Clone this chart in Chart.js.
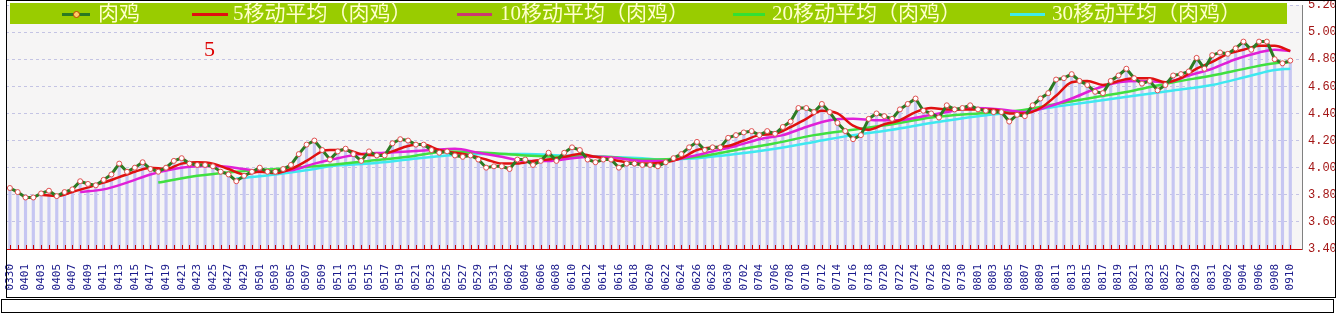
<!DOCTYPE html>
<html>
<head>
<meta charset="utf-8">
<script src="https://cdn.jsdelivr.net/npm/chart.js@4.4.1/dist/chart.umd.min.js"></script>
<style>
body{margin:0;background:#fff;width:1340px;height:313px;overflow:hidden;position:relative;font-family:"Liberation Serif","Noto Sans CJK SC",serif}
#wrap{position:absolute;left:0;top:0;width:1340px;height:297px}
#frame{position:absolute;left:6px;top:0;width:1328px;height:296px;border:1px solid #000;pointer-events:none}
#foot{position:absolute;left:1px;top:299px;width:1331px;height:12px;border:1px solid #000}
#legend{position:absolute;left:10px;top:3px;width:1277px;height:21px;background:#99cc00}
.it{position:absolute;top:0;height:21px;line-height:21px;font-size:21px;color:#ffffcc;white-space:nowrap}
.ln{position:absolute;top:10px;height:3px}
.dot{position:absolute;top:8px;width:5px;height:5px;border-radius:50%;background:#ffcc66;border:1px solid #c04000}
#mark5{position:absolute;left:204px;top:36px;font-size:22px;color:#dd0000;font-family:"Liberation Serif",serif}
</style>
</head>
<body>
<div id="wrap"><canvas id="c" width="1340" height="297"></canvas></div>
<div id="frame"></div>
<div id="foot"></div>
<div id="legend">
  <span class="ln" style="left:52px;width:28px;background:#2b7a22"></span><span class="dot" style="left:63px"></span>
  <span class="it" style="left:88px">肉鸡</span>
  <span class="ln" style="left:182px;width:36px;background:#e01010"></span>
  <span class="it" style="left:223px">5移动平均（肉鸡）</span>
  <span class="ln" style="left:447px;width:35px;background:#cc3a70"></span>
  <span class="it" style="left:490px">10移动平均（肉鸡）</span>
  <span class="ln" style="left:723px;width:32px;background:#33e033"></span>
  <span class="it" style="left:762px">20移动平均（肉鸡）</span>
  <span class="ln" style="left:1000px;width:35px;background:#40ecea"></span>
  <span class="it" style="left:1042px">30移动平均（肉鸡）</span>
</div>
<div id="mark5">5</div>
<script>
// 日期（每日）
const days = ['0330','0331',
  '0401','0402','0403','0404','0405','0406','0407','0408','0409','0410','0411','0412','0413','0414','0415',
  '0416','0417','0418','0419','0420','0421','0422','0423','0424','0425','0426','0427','0428','0429','0430',
  '0501','0502','0503','0504','0505','0506','0507','0508','0509','0510','0511','0512','0513','0514','0515','0516',
  '0517','0518','0519','0520','0521','0522','0523','0524','0525','0526','0527','0528','0529','0530','0531',
  '0601','0602','0603','0604','0605','0606','0607','0608','0609','0610','0611','0612','0613','0614','0615',
  '0616','0617','0618','0619','0620','0621','0622','0623','0624','0625','0626','0627','0628','0629','0630',
  '0701','0702','0703','0704','0705','0706','0707','0708','0709','0710','0711','0712','0713','0714','0715','0716',
  '0717','0718','0719','0720','0721','0722','0723','0724','0725','0726','0727','0728','0729','0730','0731',
  '0801','0802','0803','0804','0805','0806','0807','0808','0809','0810','0811','0812','0813','0814','0815','0816',
  '0817','0818','0819','0820','0821','0822','0823','0824','0825','0826','0827','0828','0829','0830','0831',
  '0901','0902','0903','0904','0905','0906','0907','0908','0909','0910'];

// 肉鸡价格
const price = [3.85,3.82,3.78,3.78,3.81,3.83,3.79,3.82,3.84,3.90,
  3.88,3.87,3.91,3.95,4.03,3.97,4.00,4.04,3.99,3.97,
  4.00,4.05,4.07,4.03,4.02,4.02,4.01,3.97,3.95,3.90,
  3.94,3.97,4.00,3.97,3.97,3.99,4.02,4.10,4.17,4.20,
  4.13,4.06,4.12,4.14,4.10,4.05,4.12,4.09,4.09,4.18,
  4.21,4.20,4.17,4.17,4.13,4.11,4.12,4.09,4.08,4.09,
  4.06,4.00,4.01,4.01,3.99,4.06,4.06,4.02,4.05,4.11,
  4.05,4.11,4.15,4.13,4.06,4.04,4.06,4.06,4.00,4.03,
  4.03,4.02,4.02,4.01,4.04,4.07,4.10,4.15,4.19,4.13,
  4.15,4.15,4.22,4.24,4.26,4.27,4.24,4.27,4.25,4.30,
  4.34,4.44,4.44,4.41,4.47,4.41,4.33,4.27,4.21,4.24,
  4.36,4.40,4.38,4.36,4.43,4.47,4.51,4.42,4.40,4.37,
  4.46,4.43,4.44,4.46,4.43,4.42,4.41,4.41,4.34,4.39,
  4.38,4.46,4.51,4.55,4.65,4.66,4.69,4.64,4.61,4.56,
  4.55,4.64,4.68,4.73,4.66,4.62,4.64,4.57,4.61,4.68,
  4.69,4.71,4.81,4.73,4.83,4.85,4.84,4.88,4.93,4.87,
  4.93,4.93,4.80,4.77,4.79];

// 移动平均 [日序号, 值]
const ma5 = [[4,3.80],[6,3.79],[8,3.82],[10,3.855],[12,3.89],[14,3.93],[16,3.97],[18,4.00],[20,3.99],[22,4.03],
  [24,4.04],[26,4.03],[28,3.99],[30,3.95],[32,3.97],[34,3.96],[36,3.99],[38,4.05],[40,4.12],[41,4.13],[43,4.13],
  [45,4.10],[47,4.09],[49,4.12],[51,4.16],[53,4.17],[55,4.13],[57,4.11],[59,4.09],[61,4.06],[63,4.03],[65,4.03],
  [67,4.05],[69,4.06],[71,4.08],[73,4.10],[75,4.08],[77,4.06],[79,4.04],[81,4.03],[84,4.04],[86,4.07],[88,4.13],
  [90,4.15],[92,4.16],[94,4.20],[96,4.24],[98,4.25],[100,4.30],[102,4.36],[104,4.42],[106,4.40],[108,4.31],
  [110,4.28],[112,4.32],[114,4.35],[116,4.41],[118,4.44],[120,4.43],[122,4.43],[124,4.43],[126,4.43],[128,4.40],
  [130,4.40],[132,4.44],[134,4.53],[136,4.63],[138,4.64],[140,4.61],[142,4.64],[144,4.66],[146,4.66],[148,4.63],
  [150,4.66],[152,4.73],[154,4.78],[156,4.84],[158,4.87],[160,4.90],[162,4.90],[164,4.86]];
const ma10 = [[9,3.82],[12,3.84],[15,3.89],[18,3.95],[21,3.99],[24,4.01],[27,4.01],[30,3.99],[33,3.97],[36,3.98],
  [39,4.03],[42,4.07],[45,4.10],[48,4.11],[51,4.12],[54,4.13],[57,4.14],[60,4.11],[63,4.08],[66,4.05],[69,4.05],
  [72,4.07],[75,4.08],[78,4.07],[81,4.05],[84,4.05],[87,4.08],[90,4.12],[93,4.16],[96,4.21],[99,4.24],[102,4.30],
  [105,4.35],[108,4.36],[111,4.35],[114,4.35],[117,4.38],[120,4.41],[123,4.44],[127,4.43],[130,4.41],[133,4.45],
  [136,4.51],[139,4.58],[142,4.63],[145,4.64],[148,4.63],[151,4.68],[154,4.73],[157,4.80],[160,4.85],[162,4.87],[164,4.86]];
const ma20 = [[19,3.89],[24,3.94],[29,3.97],[34,3.99],[39,4.01],[41,4.02],[46,4.05],[51,4.08],[56,4.12],[61,4.11],
  [66,4.09],[71,4.08],[76,4.08],[81,4.06],[83,4.06],[88,4.08],[93,4.13],[98,4.18],[103,4.24],[108,4.28],[113,4.32],
  [118,4.37],[124,4.40],[129,4.42],[134,4.47],[139,4.52],[144,4.57],[149,4.63],[154,4.68],[159,4.74],[162,4.77],[164,4.78]];
const ma30 = [[29,3.92],[34,3.95],[39,3.99],[41,4.01],[46,4.03],[51,4.06],[56,4.09],[61,4.10],[66,4.10],[71,4.09],
  [76,4.08],[81,4.07],[83,4.06],[88,4.07],[93,4.10],[98,4.14],[103,4.19],[108,4.24],[113,4.28],[118,4.33],[124,4.38],
  [129,4.41],[134,4.45],[139,4.49],[144,4.53],[149,4.57],[154,4.61],[159,4.68],[162,4.72],[164,4.73]];

const cats = days.concat(['']);
const pts = arr => arr.map(p => ({x: days[p[0]], y: p[1]}));

const plotBg = {
  id: 'plotBg',
  beforeDraw(chart) {
    const a = chart.chartArea, ctx = chart.ctx;
    ctx.save();
    ctx.fillStyle = '#f6f5f5';
    ctx.fillRect(a.left, a.top, a.right - a.left, a.bottom - a.top);
    ctx.restore();
  },
  afterDatasetsDraw(chart) {
    // small red ticks pointing up from the x axis
    const x = chart.scales.x, a = chart.chartArea, ctx = chart.ctx;
    ctx.save();
    ctx.strokeStyle = '#cc0000';
    ctx.lineWidth = 1;
    ctx.beginPath();
    for (let i = 0; i < days.length; i++) {
      const px = Math.round(x.getPixelForTick(i)) + 0.5;
      ctx.moveTo(px, a.bottom);
      ctx.lineTo(px, a.bottom - 4);
    }
    ctx.stroke();
    ctx.restore();
  }
};

function maLine(label, data, color, order) {
  return {type: 'line', label: label, data: pts(data), borderColor: color, borderWidth: 2.5,
    pointRadius: 0, cubicInterpolationMode: 'monotone', spanGaps: true, order: order};
}

new Chart(document.getElementById('c'), {
  data: {
    labels: cats,
    datasets: [
      {type: 'line', label: '肉鸡', data: price, borderColor: '#2b7a22', borderWidth: 3,
        pointRadius: 2.5, pointBackgroundColor: '#ffffff', pointBorderColor: '#e05050', pointBorderWidth: 1,
        tension: 0, order: 0},
      maLine('5移动平均（肉鸡）', ma5, '#e01010', 1),
      maLine('10移动平均（肉鸡）', ma10, '#e020d8', 2),
      maLine('20移动平均（肉鸡）', ma20, '#40e040', 3),
      maLine('30移动平均（肉鸡）', ma30, '#40e8f0', 4),
      {type: 'bar', label: 'bars', data: price, backgroundColor: '#c6c6f2', barThickness: 2.5, order: 5}
    ]
  },
  options: {
    responsive: false,
    animation: false,
    layout: {padding: {left: 6, top: 4, right: 0, bottom: 0}},
    plugins: {legend: {display: false}, tooltip: {enabled: false}},
    scales: {
      x: {
        type: 'category',
        offset: true,
        grid: {display: false},
        border: {display: true, color: '#cc0000', width: 1},
        ticks: {autoSkip: false, minRotation: 90, maxRotation: 90, padding: 7, color: '#1a1a8c',
          font: {family: 'DejaVu Sans Mono', size: 11},
          callback: (v, i) => (i % 2 === 0 ? cats[i] : '')},
        afterFit: s => { s.height = 48; s.paddingLeft = 0; s.paddingRight = 0; }
      },
      y: {
        position: 'right',
        min: 3.4,
        max: 5.2,
        grid: {color: '#c4c4e4', drawTicks: false},
        border: {color: '#808080', dash: [3, 3]},
        ticks: {stepSize: 0.2, padding: 6, color: '#a31515',
          font: {family: 'Liberation Mono', size: 12},
          callback: v => v.toFixed(2)},
        afterFit: s => { s.width = 38; s.paddingTop = 0; s.paddingBottom = 0; }
      }
    }
  },
  plugins: [plotBg]
});
</script>
</body>
</html>
